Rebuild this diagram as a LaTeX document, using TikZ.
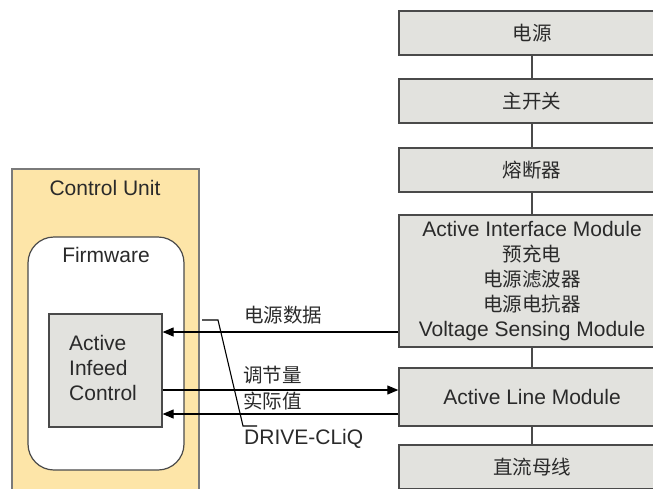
\documentclass[tikz,border=0pt]{standalone}
\usepackage{fontspec}
\setmainfont{Liberation Sans}
\newfontfamily\cjk{Noto Sans CJK SC}
\usetikzlibrary{arrows.meta}
\definecolor{txt}{HTML}{2A2A2A}
\definecolor{boxfill}{HTML}{E2E2DE}
\definecolor{boxline}{HTML}{4A4A4A}
\definecolor{cufill}{HTML}{FDE5A8}
\definecolor{culine}{HTML}{7A7A7A}
\newcommand{\latinsz}{\fontsize{21}{25}\selectfont}
\newcommand{\cjksz}{\cjk\fontsize{19.5}{25}\selectfont}
\tikzset{
  chain/.style={draw=boxline, line width=1.4pt, fill=boxfill, minimum width=266pt, inner sep=0pt, text=txt, align=center},
  link/.style={draw=boxline, line width=1.4pt},
  arr/.style={draw=black, line width=1.1pt, -{Triangle[length=11pt,width=9pt]}},
  lbl/.style={text=txt, anchor=west, inner sep=0pt},
}
\begin{document}
\begin{tikzpicture}[x=1pt,y=-1pt]
\useasboundingbox (0,0) rectangle (653,488);
\fill[white] (0,0) rectangle (653,488);
\begin{scope}
\clip (0,0) rectangle (653,488);
% right chain
\node[chain, minimum height=44pt, font=\cjksz] (src) at (532,33) {电源};
\node[chain, minimum height=44pt, font=\cjksz] (sw) at (532,101) {主开关};
\node[chain, minimum height=44pt, font=\cjksz] (fuse) at (532,170) {熔断器};
\node[chain, minimum height=132pt, font=\latinsz] (aim) at (532,281) {Active Interface Module\\ {\cjksz 预充电}\\ {\cjksz 电源滤波器}\\ {\cjksz 电源电抗器}\\ Voltage Sensing Module};
\node[chain, minimum height=58pt, font=\latinsz] (alm) at (532,397) {Active Line Module};
\node[chain, minimum height=44pt, font=\cjksz] (dc) at (532,467) {直流母线};
\draw[link] (src) -- (sw);
\draw[link] (sw) -- (fuse);
\draw[link] (fuse) -- (aim);
\draw[link] (aim) -- (alm);
\draw[link] (alm) -- (dc);
% control unit
\draw[draw=culine, line width=1.2pt, fill=cufill] (12,169) rectangle (199,500);
\node[text=txt, font=\latinsz] (cu) at (105,188) {Control Unit};
\draw[draw=boxline, line width=1.2pt, fill=white, rounded corners=26pt] (28,237) rectangle (184,470);
\node[text=txt, font=\latinsz] (fw) at (106,255) {Firmware};
\node[draw=boxline, line width=1.2pt, fill=boxfill, minimum width=113pt, minimum height=113pt, inner sep=0pt] (aci) at (105.5,370.5) {};
\node[text=txt, font=\latinsz, align=left, anchor=west, inner sep=0pt] (acit) at (69,368) {Active\\Infeed\\Control};
% signals
\coordinate (y1) at (0,332);
\coordinate (y2) at (0,390);
\coordinate (y3) at (0,414);
\draw[arr] (aim.west |- y1) -- (aci.east |- y1);
\draw[arr] (aci.east |- y2) -- (alm.west |- y2);
\draw[arr] (alm.west |- y3) -- (aci.east |- y3);
\node[lbl, font=\cjksz] (l1) at (244,315) {电源数据};
\node[lbl, font=\cjksz] (l2) at (243,375) {调节量};
\node[lbl, font=\cjksz] (l3) at (243,401) {实际值};
\node[lbl, font=\latinsz] (l4) at (244,439) {DRIVE-CLiQ};
\coordinate (d1) at (202,320);
\coordinate (d2) at (218,320);
\coordinate (d3) at (243,426);
\coordinate (d4) at (257,426);
\draw[line width=1.1pt] (d1) -- (d2) -- (d3) -- (d4);
\end{scope}
\end{tikzpicture}
\end{document}
